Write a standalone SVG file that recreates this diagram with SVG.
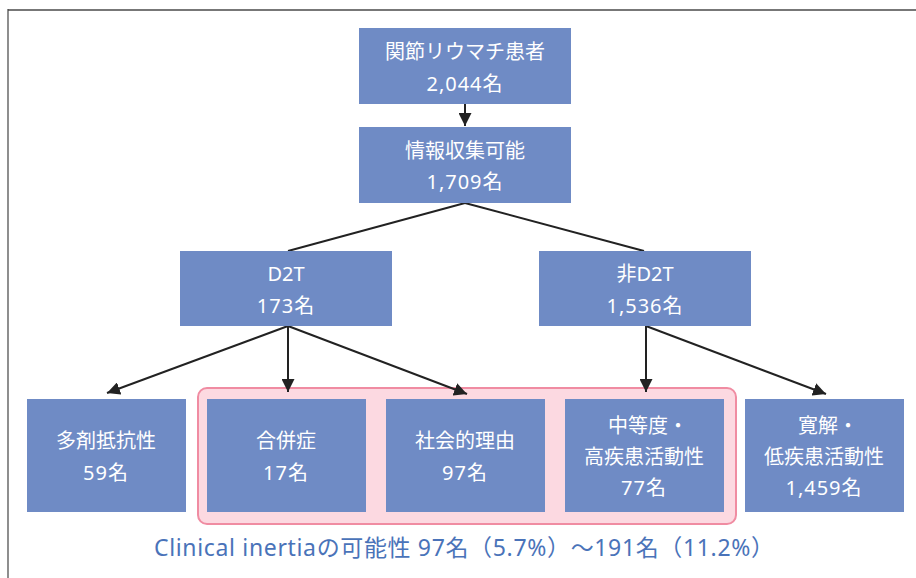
<svg xmlns="http://www.w3.org/2000/svg" width="916" height="578" viewBox="0 0 916 578">
<style>
.box{fill:#6f8bc5;}
.t{font-family:"Noto Sans","Noto Sans CJK JP",sans-serif;font-size:20px;fill:#ffffff;text-anchor:middle;}
.c{stroke:#222;stroke-width:2;fill:none;}
.cap{font-family:"Noto Sans","Noto Sans CJK JP",sans-serif;font-size:23px;fill:#4a73b9;text-anchor:middle;}
</style>
<defs>
<marker id="ah" viewBox="0 0 10 10" refX="10" refY="5" markerWidth="6.5" markerHeight="6.5" markerUnits="strokeWidth" orient="auto">
<path d="M0,0 L10,5 L0,10 z" fill="#222"/>
</marker>
</defs>
<rect width="916" height="578" fill="#ffffff"/>
<g id="frame">
<line x1="8" y1="10" x2="916" y2="10" stroke="#777" stroke-width="2"/>
<line x1="8" y1="9" x2="8" y2="578" stroke="#444" stroke-width="1.2"/>
</g>
<g id="highlight">
<rect x="198" y="388" width="538" height="136" rx="9" fill="#fcd9e1" stroke="#f08ca2" stroke-width="2"/>
</g>
<g id="connectors">
<line class="c" x1="465" y1="104" x2="465" y2="126" marker-end="url(#ah)"/>
<line class="c" x1="465" y1="203" x2="288" y2="251"/>
<line class="c" x1="465" y1="203" x2="644" y2="251"/>
<line class="c" x1="288" y1="326" x2="288" y2="392" marker-end="url(#ah)"/>
<line class="c" x1="288" y1="326" x2="107" y2="393" marker-end="url(#ah)"/>
<line class="c" x1="288" y1="326" x2="467" y2="394" marker-end="url(#ah)"/>
<line class="c" x1="646" y1="326" x2="646" y2="392" marker-end="url(#ah)"/>
<line class="c" x1="646" y1="326" x2="826" y2="394" marker-end="url(#ah)"/>
</g>
<g id="n1">
<rect class="box" x="359" y="28" width="212" height="76"/>
<text class="t" x="465" y="59">関節リウマチ患者</text>
<text class="t" x="465" y="91" letter-spacing="1">2,044名</text>
</g>
<g id="n2">
<rect class="box" x="359" y="127" width="212" height="76"/>
<text class="t" x="465" y="158">情報収集可能</text>
<text class="t" x="465" y="189" letter-spacing="1">1,709名</text>
</g>
<g id="n3">
<rect class="box" x="180" y="251" width="212" height="75"/>
<text class="t" x="286" y="281">D2T</text>
<text class="t" x="286" y="313" letter-spacing="1">173名</text>
</g>
<g id="n4">
<rect class="box" x="539" y="251" width="212" height="75"/>
<text class="t" x="645" y="281">非D2T</text>
<text class="t" x="645" y="313" letter-spacing="1">1,536名</text>
</g>
<g id="n5">
<rect class="box" x="27" y="399" width="159" height="113"/>
<text class="t" x="106" y="448">多剤抵抗性</text>
<text class="t" x="106" y="480" letter-spacing="1">59名</text>
</g>
<g id="n6">
<rect class="box" x="207" y="399" width="159" height="113"/>
<text class="t" x="286" y="448">合併症</text>
<text class="t" x="286" y="480" letter-spacing="1">17名</text>
</g>
<g id="n7">
<rect class="box" x="386" y="399" width="159" height="113"/>
<text class="t" x="465" y="448">社会的理由</text>
<text class="t" x="465" y="480" letter-spacing="1">97名</text>
</g>
<g id="n8">
<rect class="box" x="565" y="399" width="159" height="113"/>
<text class="t" x="648" y="433">中等度・</text>
<text class="t" x="644" y="464">高疾患活動性</text>
<text class="t" x="644" y="495" letter-spacing="1">77名</text>
</g>
<g id="n9">
<rect class="box" x="745" y="399" width="159" height="113"/>
<text class="t" x="828" y="433">寛解・</text>
<text class="t" x="824" y="464">低疾患活動性</text>
<text class="t" x="824" y="495" letter-spacing="1">1,459名</text>
</g>
<text class="cap" x="464" y="556" textLength="620" lengthAdjust="spacing">Clinical inertiaの可能性 97名（5.7%）〜191名（11.2%）</text>
</svg>
